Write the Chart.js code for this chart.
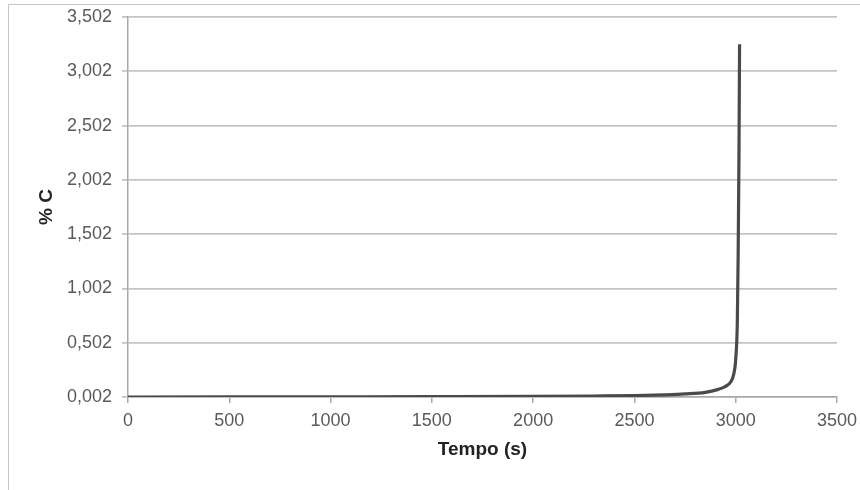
<!DOCTYPE html>
<html>
<head>
<meta charset="utf-8">
<script src="https://cdn.jsdelivr.net/npm/chart.js@4/dist/chart.umd.min.js"></script>
<style>
  html, body { margin: 0; padding: 0; background: #fff; }
  #wrap { position: relative; width: 860px; height: 490px; overflow: hidden; }
  #frame { position: absolute; left: 8px; top: 4px; width: 900px; height: 600px;
           border-left: 1.5px solid #c6c6c6; border-top: 1.5px solid #c6c6c6; }
  canvas { position: absolute; left: 0; top: 0; }
</style>
</head>
<body>
<div id="wrap">
  <div id="frame"></div>
  <canvas id="chart" width="860" height="490"></canvas>
</div>
<script>
// Carbon content over time
const timeS      = [0, 500, 1000, 1500, 2000, 2300, 2500, 2650, 2750, 2850, 2910, 2950, 2975, 2990, 3000, 3008, 3012, 3016, 3019];
const carbonPct  = [0.002, 0.003, 0.004, 0.005, 0.007, 0.011, 0.015, 0.022, 0.030, 0.045, 0.070, 0.100, 0.140, 0.210, 0.350, 0.700, 1.300, 2.200, 3.250];

const yTickValues = [0.002, 0.502, 1.002, 1.502, 2.002, 2.502, 3.002, 3.502];
const yTickLabels = ['0,002', '0,502', '1,002', '1,502', '2,002', '2,502', '3,002', '3,502'];
const xTickValues = [0, 500, 1000, 1500, 2000, 2500, 3000, 3500];
const xTickLabels = ['0', '500', '1000', '1500', '2000', '2500', '3000', '3500'];

const points = timeS.map((t, i) => ({ x: t, y: carbonPct[i] }));

const FONT = "'Liberation Sans', Arial, sans-serif";

new Chart(document.getElementById('chart'), {
  type: 'line',
  data: {
    datasets: [{
      data: points,
      borderColor: '#4a4a4a',
      borderWidth: 3.2,
      pointRadius: 0,
      cubicInterpolationMode: 'monotone',
      fill: false
    }]
  },
  options: {
    responsive: false,
    animation: false,
    layout: { padding: { left: 0, top: 17, right: 23, bottom: 0 } },
    plugins: { legend: { display: false }, tooltip: { enabled: false } },
    scales: {
      x: {
        type: 'linear',
        min: 0,
        max: 3500,
        afterFit: s => { s.height = 93; s.paddingLeft = 0; s.paddingRight = 0; },
        afterBuildTicks: s => { s.ticks = xTickValues.map(v => ({ value: v })); },
        ticks: {
          color: '#5a5a5a',
          font: { family: FONT, size: 18 },
          padding: 7,
          maxRotation: 0,
          autoSkip: false,
          callback: (v, i) => xTickLabels[i]
        },
        grid: { drawOnChartArea: false, drawTicks: true, tickLength: 6, color: '#a8a8a8', lineWidth: 1.5 },
        border: { color: '#a8a8a8', width: 1.5 },
        title: {
          display: true,
          text: 'Tempo (s)',
          color: '#222',
          font: { family: FONT, size: 19, weight: 'bold' },
          padding: { top: 0, bottom: 29 }
        }
      },
      y: {
        type: 'linear',
        min: 0.002,
        max: 3.502,
        afterFit: s => { s.width = 128; s.paddingTop = 0; s.paddingBottom = 0; },
        afterBuildTicks: s => { s.ticks = yTickValues.map(v => ({ value: v })); },
        ticks: {
          color: '#5a5a5a',
          font: { family: FONT, size: 18 },
          padding: 10,
          autoSkip: false,
          callback: (v, i) => yTickLabels[i]
        },
        grid: { color: '#c4c4c4', lineWidth: 1.8, drawTicks: true, tickLength: 6 },
        border: { color: '#a8a8a8', width: 1.5 },
        title: {
          display: true,
          text: '% C',
          color: '#222',
          font: { family: FONT, size: 19, weight: 'bold' },
          padding: { top: 35, bottom: 0 }
        }
      }
    }
  }
});
</script>
</body>
</html>
